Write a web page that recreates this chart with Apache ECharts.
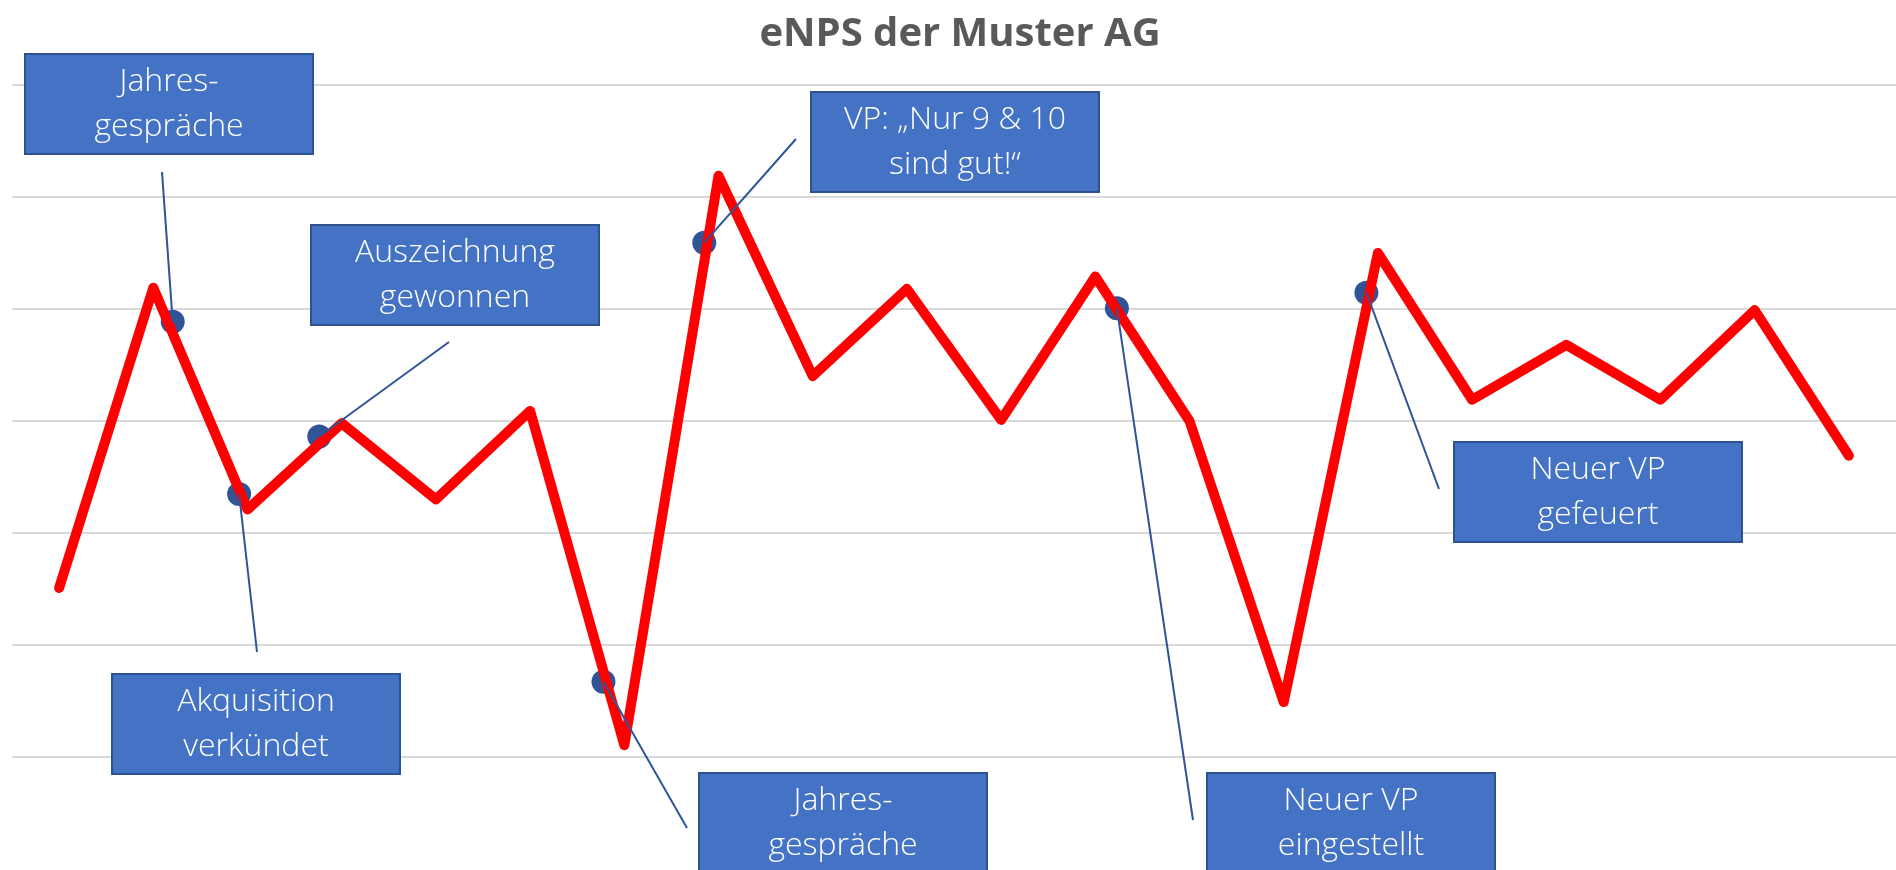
<!DOCTYPE html>
<html lang="de">
<head>
<meta charset="UTF-8">
<title>eNPS der Muster AG</title>
<script src="https://cdn.jsdelivr.net/npm/echarts@6/dist/echarts.min.js"></script>
<style>
  html, body { margin: 0; padding: 0; background: #fff; }
  #chart { width: 1896px; height: 870px; }
</style>
</head>
<body>
<div id="chart"></div>
<script>
  // Zeitpunkte (Achse ist im Original ausgeblendet)
  var categories = ['1', '2', '3', '4', '5', '6', '7', '8', '9', '10',
    '11', '12', '13', '14', '15', '16', '17', '18', '19', '20'];
  var enps = [-14.9, 11.9, -7.9, -0.2, -7.0, 0.9, -28.95, 21.9, 4.0, 11.8,
    0.1, 12.9, 0.0, -25.1, 15.0, 1.9, 6.8, 1.9, 9.9, -3.1];

  // Ereignisse: Position zwischen den Zeitpunkten (Index) und Wert
  var eventNames = ['Jahres-\ngespräche', 'Akquisition\nverkündet', 'Auszeichnung\ngewonnen',
    'Jahres-\ngespräche', 'VP: „Nur 9 & 10\nsind gut!“', 'Neuer VP\neingestellt', 'Neuer VP\ngefeuert'];
  var eventPos = [1.206, 1.911, 2.762, 5.779, 6.849, 11.229, 13.878];
  var eventVal = [8.87, -6.52, -1.38, -23.28, 15.92, 10.06, 11.46];

  // Lage der Kästchen (px) und Ende der Verbindungslinie
  var boxLayout = [
    { x: 25, y: 54, end: [162, 172] },
    { x: 112, y: 674, end: [257, 652] },
    { x: 311, y: 225, end: [449, 342] },
    { x: 699, y: 773, end: [687, 828] },
    { x: 811, y: 92, end: [796, 139] },
    { x: 1207, y: 773, end: [1193, 820] },
    { x: 1454, y: 442, end: [1439, 489] }
  ];
  var boxW = 288, boxH = 100;

  var chart = echarts.init(document.getElementById('chart'));

  var option = {
    animation: false,
    title: {
      text: 'eNPS der Muster AG',
      left: 955,
      top: 10,
      textAlign: 'center',
      textStyle: {
        fontFamily: 'Open Sans',
        fontWeight: 'bold',
        fontSize: 40,
        color: '#595959'
      }
    },
    grid: { left: 12, right: 0, top: 85, bottom: 113 },
    xAxis: [
      {
        type: 'category',
        data: categories,
        boundaryGap: true,
        show: false
      },
      {
        type: 'value',
        min: -0.5,
        max: 19.5,
        show: false
      }
    ],
    yAxis: {
      type: 'value',
      min: -30,
      max: 30,
      interval: 10,
      axisLine: { show: false },
      axisTick: { show: false },
      axisLabel: { show: false },
      splitLine: { lineStyle: { color: '#d9d9d9', width: 2 } }
    },
    series: [
      {
        type: 'line',
        data: enps,
        symbol: 'none',
        lineStyle: { color: '#ff0000', width: 10, cap: 'round', join: 'round' }
      },
      {
        type: 'scatter',
        xAxisIndex: 1,
        data: eventPos.map(function (x, i) { return [x, eventVal[i]] }),
        symbolSize: 24,
        itemStyle: { color: '#2f5597', opacity: 1 }
      }
    ]
  };
  chart.setOption(option);

  // Kästchen und Linien an die Punkte hängen
  var elements = [];
  eventNames.forEach(function (name, i) {
    var p = chart.convertToPixel({ xAxisIndex: 1, yAxisIndex: 0 }, [eventPos[i], eventVal[i]]);
    var b = boxLayout[i];
    elements.push({
      type: 'line',
      z: 100,
      shape: { x1: p[0], y1: p[1], x2: b.end[0], y2: b.end[1] },
      style: { stroke: '#2f5597', lineWidth: 2 }
    });
    elements.push({
      type: 'rect',
      z: 100,
      shape: { x: b.x, y: b.y, width: boxW, height: boxH },
      style: { fill: '#4472c4', stroke: '#2f528f', lineWidth: 2 }
    });
    elements.push({
      type: 'text',
      z: 101,
      x: b.x + boxW / 2,
      y: b.y + boxH / 2,
      style: {
        text: name,
        fill: '#ffffff',
        fontFamily: 'Open Sans',
        fontWeight: 300,
        fontSize: 32,
        lineHeight: 45,
        align: 'center',
        verticalAlign: 'middle'
      }
    });
  });
  chart.setOption({ graphic: elements });
</script>
</body>
</html>
